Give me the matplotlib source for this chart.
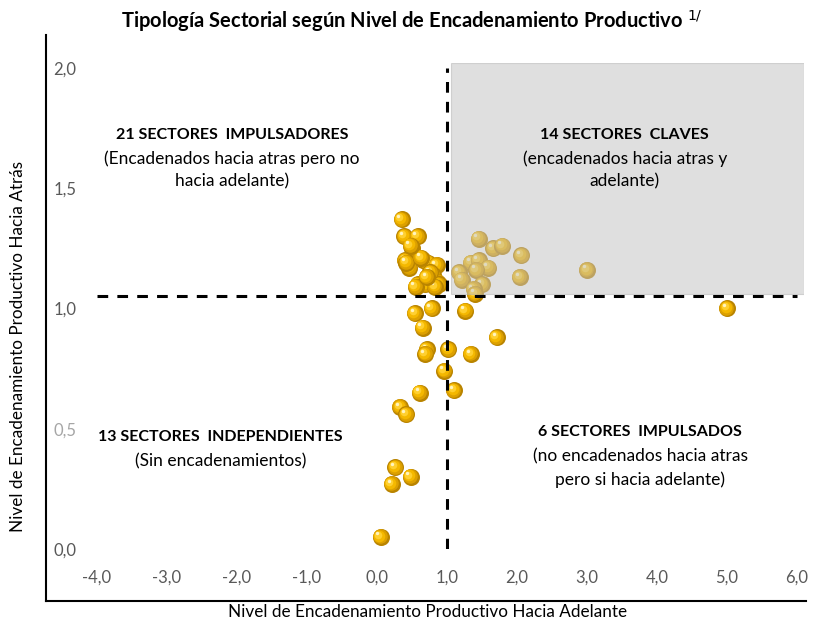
import numpy as np
from matplotlib import pyplot as plt
import matplotlib.ticker as mtick
from matplotlib.patches import Rectangle
from matplotlib.lines import Line2D
from matplotlib.transforms import ScaledTranslation

# Nivel de encadenamiento hacia adelante (x) y hacia atras (y) por sector
adelante = [0.35, 0.39, 0.58, 0.50, 0.40, 0.46, 0.66, 0.73, 0.85, 0.80, 0.86,
            0.58, 0.69, 0.88, 0.42, 0.63, 0.76, 0.55, 0.83, 0.48, 0.71,
            1.45, 1.66, 1.79, 2.06, 1.34, 1.45, 1.59, 1.42, 1.17, 1.21, 2.04,
            1.50, 1.38, 3.00, 1.40,
            5.00, 1.26, 1.02, 1.34, 1.10, 1.71,
            0.54, 0.78, 0.65, 0.71, 0.69, 0.96, 0.61, 0.33, 0.42, 0.26, 0.48,
            0.21, 0.05]
atras = [1.37, 1.30, 1.30, 1.25, 1.20, 1.17, 1.20, 1.19, 1.18, 1.14, 1.11,
         1.10, 1.10, 1.10, 1.19, 1.21, 1.15, 1.09, 1.09, 1.26, 1.13,
         1.29, 1.25, 1.26, 1.22, 1.19, 1.20, 1.17, 1.16, 1.15, 1.12, 1.13,
         1.10, 1.08, 1.16, 1.06,
         1.00, 0.99, 0.83, 0.81, 0.66, 0.88,
         0.98, 1.00, 0.92, 0.83, 0.81, 0.74, 0.65, 0.59, 0.56, 0.34, 0.30,
         0.27, 0.05]

x_ticks = [-4, -3, -2, -1, 0, 1, 2, 3, 4, 5, 6]
y_ticks = [0.0, 0.5, 1.0, 1.5, 2.0]
corte_x = 1.0
corte_y = 1.05

plt.rcParams['font.family'] = ['Lato', 'DejaVu Sans']

fig = plt.figure(figsize=(8.13, 6.25), dpi=100)
ax = fig.add_axes([97/813, 76/625, 707/813, 486/625])
ax.set_xlim(-4, 6.1)
ax.set_ylim(0, 2.02)
for s in ax.spines.values():
    s.set_visible(False)

# esferas doradas
layers = [(150, '#b98400', 0, 0),
          (110, '#dca000', -0.5, 0.5),
          (70, '#f4b800', -1.0, 1.0),
          (30, '#ffd030', -1.6, 1.6),
          (6, '#fff4c0', -2.3, 2.5)]
z = 3
for xi, yi in zip(adelante, atras):
    for size, col, dx, dy in layers:
        tr = ax.transData + ScaledTranslation(dx/72, dy/72, fig.dpi_scale_trans)
        ax.scatter([xi], [yi], s=size, color=col, linewidths=0, transform=tr, zorder=z)
        z += 0.001

# cuadrante de sectores claves
ax.add_patch(Rectangle((1.05, 1.06), 5.05, 0.96, facecolor='#c1c1c1', alpha=0.5,
                       edgecolor='#b0b0b0', lw=0.8, zorder=10))

ax.plot([-4, 6], [corte_y, corte_y], color='black', lw=2.2, ls=(0, (3.5, 3)), zorder=11)
ax.plot([corte_x, corte_x], [0, 2.0], color='black', lw=2.2, ls=(0, (3.5, 3)), zorder=11)

ax.set_xticks(x_ticks)
ax.set_yticks(y_ticks)
fmt = mtick.FuncFormatter(lambda v, p: f"{v:.1f}".replace('.', ','))
ax.xaxis.set_major_formatter(fmt)
ax.yaxis.set_major_formatter(fmt)
ax.tick_params(length=0, labelsize=12, labelcolor='#595959')
ax.tick_params(axis='x', pad=15)
ax.tick_params(axis='y', pad=15)
ax.get_yticklabels()[1].set_color('#a6a6a6')

# textos de cuadrantes
kw = dict(ha='center', va='center', color='black', zorder=12)
ax.text(-2.07, 1.72, '21 SECTORES  IMPULSADORES', fontweight='bold', fontsize=11.5, **kw)
ax.text(-2.07, 1.577, '(Encadenados hacia atras pero no\nhacia adelante)', fontsize=12.5,
        linespacing=1.5, **kw)
ax.text(3.54, 1.72, '14 SECTORES  CLAVES', fontweight='bold', fontsize=11.5, **kw)
ax.text(3.54, 1.577, '(encadenados hacia atras y\nadelante)', fontsize=12.5,
        linespacing=1.5, **kw)
ax.text(-2.24, 0.466, '13 SECTORES  INDEPENDIENTES', fontweight='bold', fontsize=11.5, **kw)
ax.text(-2.24, 0.366, '(Sin encadenamientos)', fontsize=12.5, **kw)
ax.text(3.76, 0.486, '6 SECTORES  IMPULSADOS', fontweight='bold', fontsize=11.5, **kw)
ax.text(3.76, 0.337, '(no encadenados hacia atras\npero si hacia adelante)', fontsize=12.5,
        linespacing=1.5, **kw)

fig.text(412/813, 1 - 21/625, 'Tipología Sectorial según Nivel de Encadenamiento Productivo $^{1/}$',
         ha='center', va='center', fontsize=14.5, fontweight='bold')
fig.text(428/813, 1 - 612/625, 'Nivel de Encadenamiento Productivo Hacia Adelante',
         ha='center', va='center', fontsize=12.3)
fig.text(18/813, 1 - 347/625, 'Nivel de Encadenamiento Productivo Hacia Atrás',
         ha='center', va='center', fontsize=12.3, rotation=90)

# marco en L
fig.add_artist(Line2D([46/813, 46/813], [1 - 35/625, 1 - 601/625], color='black', lw=1.5))
fig.add_artist(Line2D([46/813, 806/813], [1 - 601/625, 1 - 601/625], color='black', lw=1.5))

fig.savefig('out.png', dpi=100)
